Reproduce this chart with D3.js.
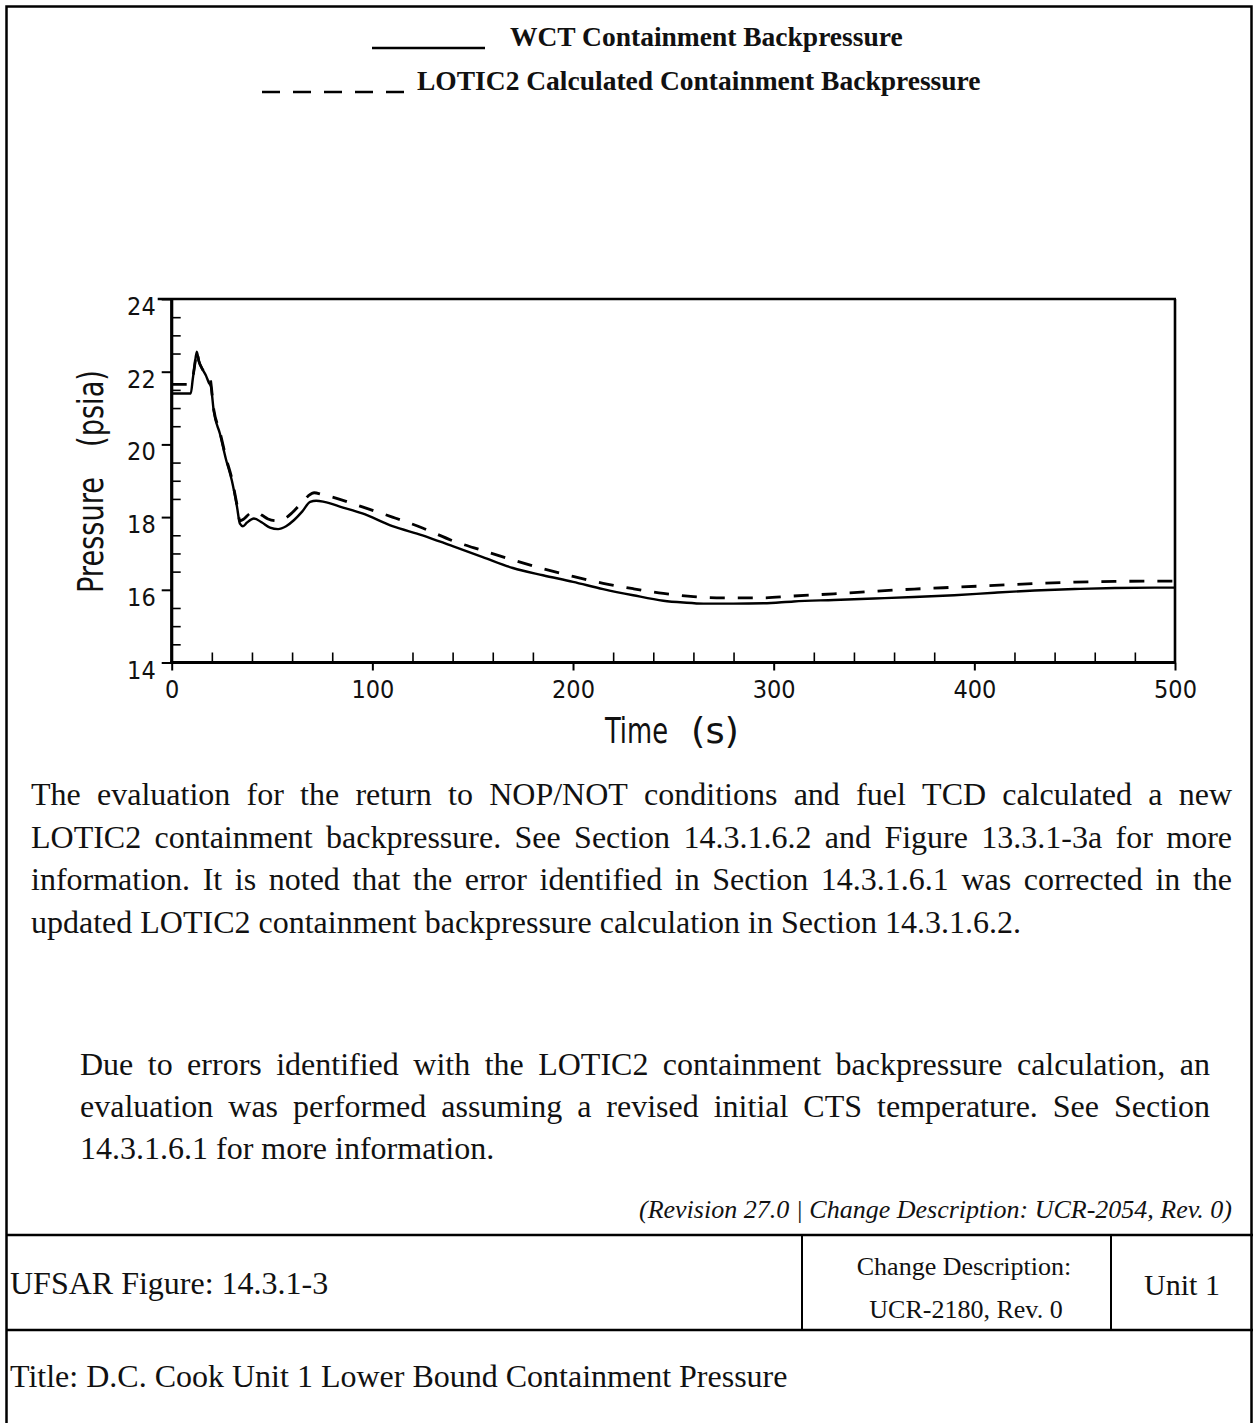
<!DOCTYPE html>
<html>
<head>
<meta charset="utf-8">
<script src="https://cdn.jsdelivr.net/npm/d3@7/dist/d3.min.js"></script>
<style>
  html, body { margin: 0; padding: 0; background: #fff; }
  svg { display: block; }
</style>
</head>
<body>
<script>
// ---- Data: containment backpressure vs. time ----
const timeWCT = [0, 9.5, 10.5, 11.5, 12.5, 13.5, 15, 17, 18.5, 19.5, 21, 24, 27, 30, 32.5, 34, 35.5, 37.5, 41, 45, 49, 53, 57, 61, 65, 69, 72, 76, 85, 95, 110, 125, 140, 155, 170, 185, 200, 215, 230, 245, 255, 265, 280, 295, 310, 330, 350, 370, 390, 410, 430, 450, 470, 490, 500];
const pressureWCT = [21.4, 21.4, 21.8, 22.2, 22.55, 22.3, 22.1, 21.9, 21.7, 21.6, 20.9, 20.3, 19.6, 19.0, 18.3, 17.82, 17.75, 17.85, 17.96, 17.85, 17.71, 17.67, 17.75, 17.92, 18.15, 18.42, 18.45, 18.42, 18.27, 18.1, 17.75, 17.5, 17.2, 16.9, 16.6, 16.4, 16.22, 16.02, 15.85, 15.7, 15.65, 15.62, 15.62, 15.63, 15.68, 15.72, 15.76, 15.8, 15.85, 15.92, 15.98, 16.02, 16.05, 16.06, 16.06];

const timeLOTIC2 = [0, 8, 10.5, 11.5, 12.5, 13.5, 15, 17, 19, 21, 24, 27, 30, 32.5, 34, 36, 39, 42, 45, 48, 52, 56, 60, 64, 68, 71, 75, 80, 95, 110, 125, 140, 155, 170, 185, 200, 215, 230, 245, 260, 275, 295, 310, 330, 350, 370, 390, 410, 430, 450, 470, 490, 500];
const pressureLOTIC2 = [21.65, 21.65, 21.85, 22.2, 22.55, 22.3, 22.1, 21.95, 21.85, 20.95, 20.35, 19.65, 19.05, 18.35, 17.9, 17.95, 18.1, 18.14, 18.05, 17.95, 17.9, 17.95, 18.12, 18.35, 18.58, 18.67, 18.62, 18.55, 18.28, 18.0, 17.7, 17.35, 17.08, 16.82, 16.58, 16.37, 16.18, 16.03, 15.9, 15.81, 15.78, 15.78, 15.83, 15.89, 15.96, 16.02, 16.07, 16.12, 16.17, 16.21, 16.23, 16.24, 16.24];

const xTickValues = [0, 100, 200, 300, 400, 500];
const yTickValues = [14, 16, 18, 20, 22, 24];

const legendLabels = ["WCT Containment Backpressure", "LOTIC2 Calculated Containment Backpressure"];
const xAxisTitle = ["Time", "(s)"];
const yAxisTitle = ["Pressure", "(psia)"];

const paragraphOne = [
  "The evaluation for the return to NOP/NOT conditions and fuel TCD calculated a new",
  "LOTIC2 containment backpressure. See Section 14.3.1.6.2 and Figure 13.3.1-3a for more",
  "information. It is noted that the error identified in Section 14.3.1.6.1 was corrected in the",
  "updated LOTIC2 containment backpressure calculation in Section 14.3.1.6.2."
];
const paragraphTwo = [
  "Due to errors identified with the LOTIC2 containment backpressure calculation, an",
  "evaluation was performed assuming a revised initial CTS temperature. See Section",
  "14.3.1.6.1 for more information."
];
const revisionNote = "(Revision 27.0 | Change Description: UCR-2054, Rev. 0)";
const figureLabel = "UFSAR Figure: 14.3.1-3";
const changeLines = ["Change Description:", "UCR-2180, Rev. 0"];
const unitLabel = "Unit 1";
const titleLabel = "Title: D.C. Cook Unit 1 Lower Bound Containment Pressure";

// ---- Layout ----
const W = 1253, H = 1423;
const plot = { left: 171.7, right: 1175, top: 299, bottom: 662.5 };
const serif = "'Liberation Serif', 'Times New Roman', serif";
const narrow = "'Liberation Sans Narrow', 'DejaVu Sans Condensed', 'Arial Narrow', sans-serif";

const svg = d3.select("body").append("svg").attr("width", W).attr("height", H);

// page frame
svg.append("path")
  .attr("d", `M6.5,${H} V6.5 H1251.5 V${H}`)
  .attr("fill", "none").attr("stroke", "#000").attr("stroke-width", 2.5);

// ---- Legend ----
const legend = svg.append("g").attr("font-family", serif).attr("font-weight", "bold")
  .attr("font-size", 27.5).attr("fill", "#111");
legend.append("line").attr("x1", 372).attr("x2", 485).attr("y1", 48).attr("y2", 48)
  .attr("stroke", "#000").attr("stroke-width", 2.6);
legend.append("text").attr("x", 510).attr("y", 46).text(legendLabels[0]);
legend.append("line").attr("x1", 262).attr("x2", 405).attr("y1", 92).attr("y2", 92)
  .attr("stroke", "#000").attr("stroke-width", 2.6).attr("stroke-dasharray", "18,13");
legend.append("text").attr("x", 417).attr("y", 90).text(legendLabels[1]);

// ---- Chart ----
const x = d3.scaleLinear().domain([0, 500]).range([plot.left, plot.right]);
const y = d3.scaleLinear().domain([14, 24]).range([plot.bottom, plot.top]);

const chart = svg.append("g");

// y axis: major ticks outward, minor ticks inward every 0.5
const yAxis = d3.axisLeft(y).tickValues(yTickValues).tickSize(10).tickPadding(6)
  .tickFormat(d3.format("d"));
const yAxisG = chart.append("g").attr("transform", `translate(${plot.left},0)`).call(yAxis);
yAxisG.select(".domain").remove();
yAxisG.selectAll(".tick line").attr("stroke", "#000").attr("stroke-width", 2);
yAxisG.selectAll(".tick text").attr("font-family", narrow).attr("font-size", 25)
  .attr("fill", "#111").attr("dy", "0.62em").attr("x", -16);

const yMinor = d3.range(14.5, 24, 0.5).filter(v => Math.abs(v % 2) > 1e-6);
chart.append("g").attr("transform", `translate(${plot.left},0)`)
  .call(d3.axisRight(y).tickValues(yMinor).tickSize(9).tickFormat(""))
  .call(g => g.select(".domain").remove())
  .selectAll(".tick line").attr("stroke", "#000").attr("stroke-width", 1.6);

// x axis: major ticks outward, minor ticks inward every 20 s
const xAxis = d3.axisBottom(x).tickValues(xTickValues).tickSize(8).tickPadding(10)
  .tickFormat(d3.format("d"));
const xAxisG = chart.append("g").attr("transform", `translate(0,${plot.bottom})`).call(xAxis);
xAxisG.select(".domain").remove();
xAxisG.selectAll(".tick line").attr("stroke", "#000").attr("stroke-width", 2);
xAxisG.selectAll(".tick text").attr("font-family", narrow).attr("font-size", 25).attr("fill", "#111");

const xMinor = d3.range(20, 500, 20).filter(v => v % 100 !== 0);
chart.append("g").attr("transform", `translate(0,${plot.bottom})`)
  .call(d3.axisTop(x).tickValues(xMinor).tickSize(10).tickFormat(""))
  .call(g => g.select(".domain").remove())
  .selectAll(".tick line").attr("stroke", "#000").attr("stroke-width", 1.6);

// frame: left and bottom axes heavier, top and right lighter
chart.append("line").attr("x1", plot.left).attr("x2", plot.left).attr("y1", plot.top - 1).attr("y2", plot.bottom + 1.5)
  .attr("stroke", "#000").attr("stroke-width", 3.2);
chart.append("line").attr("x1", plot.left - 1.5).attr("x2", plot.right + 1).attr("y1", plot.bottom).attr("y2", plot.bottom)
  .attr("stroke", "#000").attr("stroke-width", 3.2);
chart.append("line").attr("x1", plot.left - 14).attr("x2", plot.right + 1).attr("y1", plot.top).attr("y2", plot.top)
  .attr("stroke", "#000").attr("stroke-width", 2.6);
chart.append("line").attr("x1", plot.right).attr("x2", plot.right).attr("y1", plot.top).attr("y2", plot.bottom)
  .attr("stroke", "#000").attr("stroke-width", 2.6);

// axis titles in a tall, condensed face
const titleStyle = s => s.attr("font-family", narrow).attr("font-size", 35).attr("fill", "#111")
  .attr("lengthAdjust", "spacingAndGlyphs");
chart.append("text").call(titleStyle)
  .attr("transform", "translate(103,593) rotate(-90)")
  .attr("textLength", 116).text(yAxisTitle[0]);
chart.append("text").call(titleStyle)
  .attr("transform", "translate(103,447) rotate(-90)")
  .attr("textLength", 77).text(yAxisTitle[1]);
chart.append("text").call(titleStyle)
  .attr("x", 605).attr("y", 743).attr("textLength", 63).text(xAxisTitle[0]);
chart.append("text").call(titleStyle)
  .attr("x", 691).attr("y", 743).attr("textLength", 48).text(xAxisTitle[1]);

// series
const line = d3.line().x(d => x(d[0])).y(d => y(d[1])).curve(d3.curveMonotoneX);
const wct = timeWCT.map((t, i) => [t, pressureWCT[i]]);
const lotic = timeLOTIC2.map((t, i) => [t, pressureLOTIC2[i]]);

chart.append("path").datum(lotic).attr("d", line).attr("fill", "none")
  .attr("stroke", "#000").attr("stroke-width", 2.8).attr("stroke-dasharray", "15,13");
chart.append("path").datum(wct).attr("d", line).attr("fill", "none")
  .attr("stroke", "#000").attr("stroke-width", 2.4).attr("stroke-linejoin", "round");

// ---- Body text ----
function setLine(g, text, x0, x1, yy, justify) {
  if (!justify) {
    g.append("text").attr("x", x0).attr("y", yy).text(text);
    return;
  }
  const words = text.split(" ");
  const nodes = words.map(w => g.append("text").attr("y", yy).text(w));
  const widths = nodes.map(n => n.node().getComputedTextLength());
  const gap = (x1 - x0 - d3.sum(widths)) / (words.length - 1);
  let cx = x0;
  nodes.forEach((n, i) => { n.attr("x", cx); cx += widths[i] + gap; });
}

const body = svg.append("g").attr("font-family", serif).attr("font-size", 32).attr("fill", "#111");
paragraphOne.forEach((t, i) =>
  setLine(body, t, 31, 1232, 805 + i * 42.7, i < paragraphOne.length - 1));
paragraphTwo.forEach((t, i) =>
  setLine(body, t, 80, 1210, 1075 + i * 42, i < paragraphTwo.length - 1));

svg.append("text").attr("font-family", serif).attr("font-style", "italic").attr("font-size", 26)
  .attr("fill", "#111").attr("text-anchor", "end").attr("x", 1232).attr("y", 1218).text(revisionNote);

// ---- Title block ----
const tb = svg.append("g").attr("stroke", "#000").attr("stroke-width", 2.5);
tb.append("line").attr("x1", 6).attr("x2", W).attr("y1", 1235).attr("y2", 1235);
tb.append("line").attr("x1", 6).attr("x2", W).attr("y1", 1330).attr("y2", 1330);
tb.append("line").attr("x1", 802).attr("x2", 802).attr("y1", 1235).attr("y2", 1330).attr("stroke-width", 2);
tb.append("line").attr("x1", 1111).attr("x2", 1111).attr("y1", 1235).attr("y2", 1330).attr("stroke-width", 2);

const tt = svg.append("g").attr("font-family", serif).attr("fill", "#111");
tt.append("text").attr("font-size", 32).attr("x", 10).attr("y", 1294).text(figureLabel);
tt.append("text").attr("font-size", 26).attr("text-anchor", "middle").attr("x", 964).attr("y", 1275).text(changeLines[0]);
tt.append("text").attr("font-size", 26).attr("text-anchor", "middle").attr("x", 966).attr("y", 1318).text(changeLines[1]);
tt.append("text").attr("font-size", 30).attr("text-anchor", "middle").attr("x", 1182).attr("y", 1295).text(unitLabel);
tt.append("text").attr("font-size", 32).attr("x", 10).attr("y", 1387).text(titleLabel);
</script>
</body>
</html>
